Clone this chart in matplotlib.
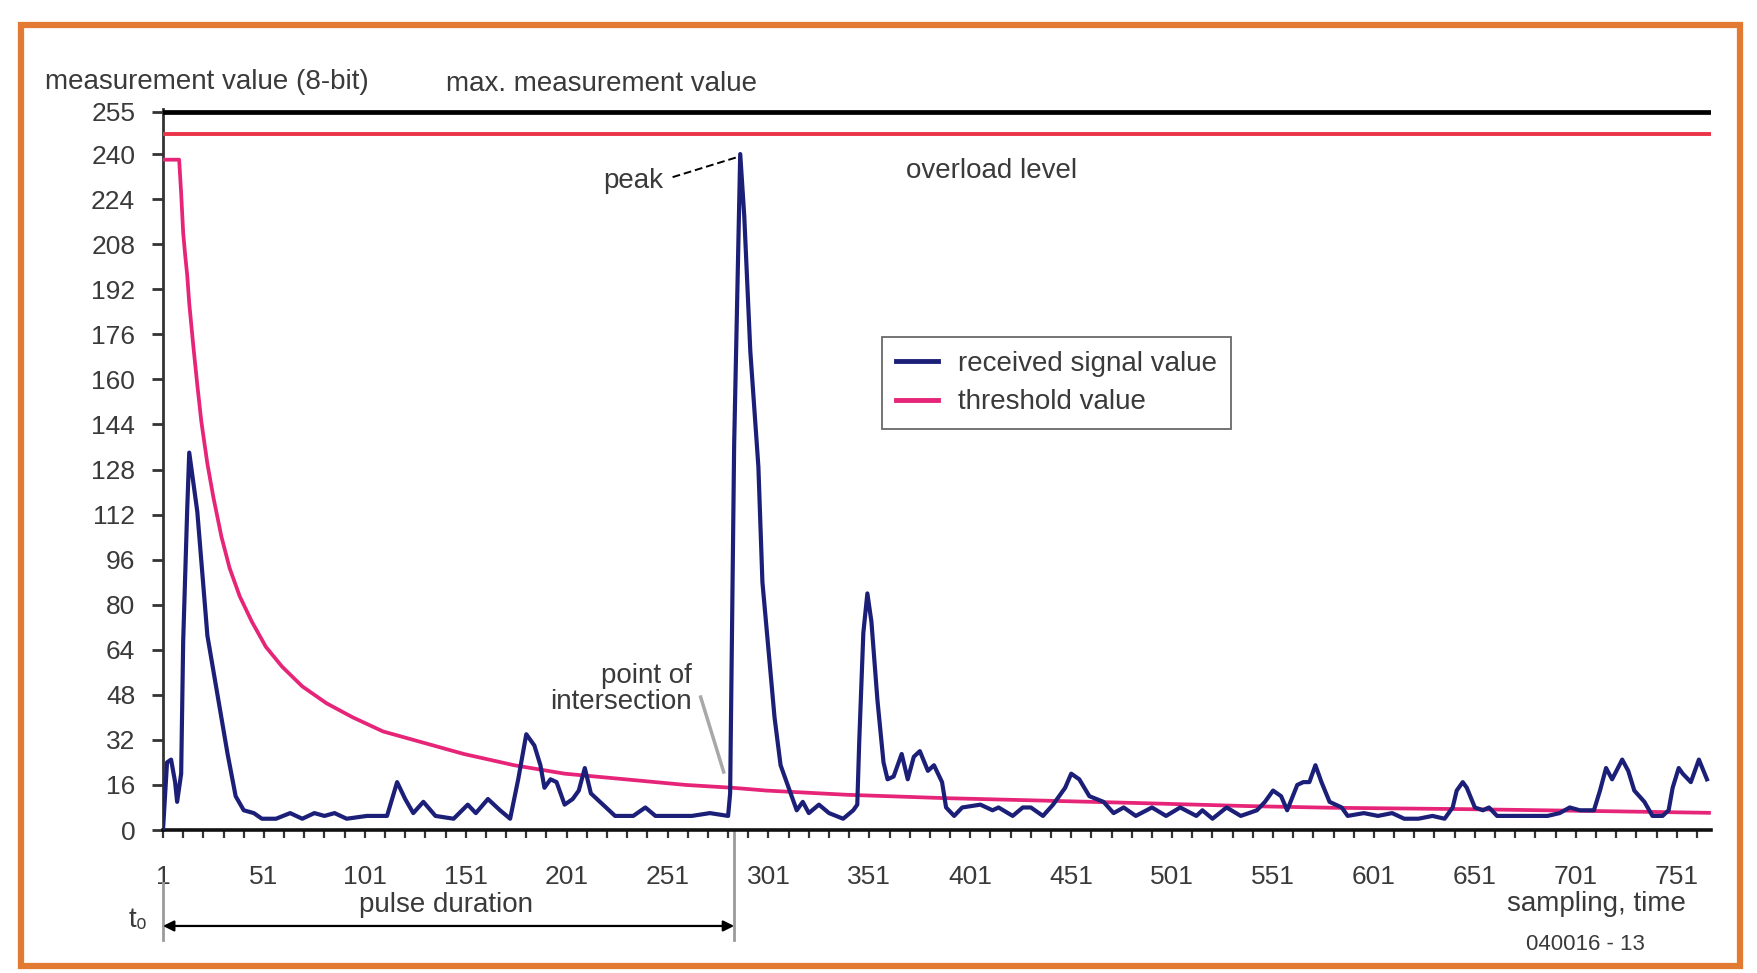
import matplotlib
matplotlib.use("Agg")
import matplotlib.pyplot as plt
from matplotlib.patches import Rectangle
import numpy as np

plt.rcParams['font.family'] = ['Liberation Sans', 'DejaVu Sans']

# ---------------- data ----------------
signal_x = [1, 3, 5, 7, 8, 10, 11, 13, 14, 18, 23, 28, 33, 37, 41, 46, 50, 57, 64, 70,
            76, 81, 86, 92, 102, 112, 117, 121, 125, 130, 136, 145, 152, 156, 162, 168,
            173, 177, 181, 185, 188, 190, 193, 196, 200, 204, 207, 210, 213, 219, 225,
            234, 240, 245, 255, 263, 272, 281, 282, 284, 287, 289, 292, 296, 298, 301,
            304, 307, 310, 315, 318, 321, 326, 331, 338, 343, 345, 346, 348, 350, 352,
            355, 358, 360, 363, 367, 370, 373, 376, 380, 383, 387, 389, 393, 397, 406,
            412, 415, 422, 427, 431, 437, 442, 448, 451, 455, 460, 467, 472, 477, 483,
            491, 498, 505, 513, 516, 521, 528, 535, 543, 547, 551, 555, 558, 563, 566,
            569, 572, 575, 579, 585, 588, 596, 603, 610, 616, 623, 630, 636, 640, 642,
            645, 647, 651, 655, 658, 662, 670, 678, 687, 693, 698, 703, 710, 713, 716,
            719, 724, 727, 730, 735, 739, 744, 747, 749, 752, 754, 758, 762, 766]
signal_y = [0, 24, 25, 17, 10, 20, 67, 114, 134, 113, 69, 48, 27, 12, 7, 6, 4, 4, 6, 4,
            6, 5, 6, 4, 5, 5, 17, 11, 6, 10, 5, 4, 9, 6, 11, 7,
            4, 18, 34, 30, 23, 15, 18, 17, 9, 11, 14, 22, 13, 9, 5,
            5, 8, 5, 5, 5, 6, 5, 13, 137, 240, 218, 170, 129, 88, 64,
            40, 23, 17, 7, 10, 6, 9, 6, 4, 7, 9, 32, 70, 84, 74,
            46, 24, 18, 19, 27, 18, 26, 28, 21, 23, 17, 8, 5, 8, 9,
            7, 8, 5, 8, 8, 5, 9, 15, 20, 18, 12, 10, 6, 8, 5,
            8, 5, 8, 5, 7, 4, 8, 5, 7, 10, 14, 12, 7, 16, 17,
            17, 23, 17, 10, 8, 5, 6, 5, 6, 4, 4, 5, 4, 8, 14,
            17, 15, 8, 7, 8, 5, 5, 5, 5, 6, 8, 7, 7, 14, 22,
            18, 25, 21, 14, 10, 5, 5, 7, 15, 22, 20, 17, 25, 18]

threshold_x = [1, 9, 10, 11, 12, 13, 14, 16, 18, 20, 23, 26, 30, 34, 39, 45, 52, 60, 70,
               82, 95, 110, 130, 150, 175, 200, 230, 260, 283, 300, 340, 389, 439, 488,
               538, 580, 647, 714, 767]
threshold_y = [238, 238, 226, 212, 204, 197, 187, 172, 158, 145, 130, 118, 104, 93, 83,
               74, 65, 58, 51, 45, 40, 35, 31, 27, 23, 20, 18, 16, 15, 14, 12.5, 11.3,
               10.4, 9.5, 8.5, 7.9, 7.4, 6.7, 6.1]

max_value = 255
overload_level = 247
x_range = (1, 768)
x_tick_labels = [1, 51, 101, 151, 201, 251, 301, 351, 401, 451, 501, 551, 601, 651, 701, 751]
y_tick_labels = [0, 16, 32, 48, 64, 80, 96, 112, 128, 144, 160, 176, 192, 208, 224, 240, 255]
pulse_start, pulse_end = 1, 284

# ---------------- figure ----------------
W, H = 1757, 973
fig = plt.figure(figsize=(W / 100, H / 100), dpi=100)
fig.patch.set_facecolor('white')

L, R, T, B = 163, 1711, 109, 830
ax = fig.add_axes([L / W, 1 - B / H, (R - L) / W, (B - T) / H])
ax.set_xlim(*x_range)
ax.set_ylim(0, 256)

txt_color = '#3a3a3a'
fs = 19
fs_t = 20

sig_color = '#1c1f78'
thr_color = '#e62478'
ovl_color = '#ea3448'

ax.axhline(max_value, color='black', lw=3.4, zorder=3)
ax.axhline(overload_level, color=ovl_color, lw=2.8, zorder=3)
ax.plot(threshold_x, threshold_y, color=thr_color, lw=2.7, zorder=4, label='threshold value')
ax.plot(signal_x, signal_y, color=sig_color, lw=3.0, zorder=5, label='received signal value')

for s in ['top', 'right']:
    ax.spines[s].set_visible(False)
ax.spines['left'].set_linewidth(2)
ax.spines['left'].set_color('#333333')
ax.spines['bottom'].set_linewidth(2.6)
ax.spines['bottom'].set_color('#111111')

ax.set_yticks(y_tick_labels)
ax.set_yticklabels([str(v) for v in y_tick_labels])
ax.set_xticks(x_tick_labels)
ax.set_xticklabels([str(v) for v in x_tick_labels])
ax.set_xticks(np.arange(1, 768, 10), minor=True)
ax.tick_params(axis='y', direction='out', length=8, width=2, pad=12,
               labelsize=fs, labelcolor=txt_color, color='#333333')
ax.tick_params(axis='x', which='both', direction='out', length=6, width=1.6,
               color='#333333')
ax.tick_params(axis='x', which='major', pad=19, labelsize=fs, labelcolor=txt_color)

# legend
handles, labels = ax.get_legend_handles_labels()
leg = ax.legend(handles[::-1], labels[::-1], loc='upper left',
                bbox_to_anchor=((882 - L) / (R - L), (B - 337) / (B - T)),
                borderaxespad=0, fontsize=fs_t, frameon=True, fancybox=False,
                handlelength=1.5, handletextpad=0.75, labelspacing=0.45,
                borderpad=0.5)
leg.get_frame().set_edgecolor('#444444')
leg.get_frame().set_linewidth(1.3)
for t in leg.get_texts():
    t.set_color(txt_color)
for lh in leg.get_lines():
    lh.set_linewidth(3.5)

# annotations in data coords
ax.text(369, 234, 'overload level', fontsize=fs_t, color=txt_color, ha='left', va='center')
ax.text(249, 230.5, 'peak', fontsize=fs_t, color=txt_color, ha='right', va='center')
ax.plot([253.5, 285.5], [231.8, 238.9], color='black', lw=1.4, ls=(0, (4, 2)), zorder=6)

ax.text(263, 50, 'point of\nintersection', fontsize=fs_t, color=txt_color,
        ha='right', va='center', multialignment='right', linespacing=1.0)
ax.plot([267.4, 278.8], [47.2, 20.6], color='#a8a8a8', lw=2.5, zorder=6)

# pulse duration below axis
xt = ax.get_xaxis_transform()
ax.annotate('', xy=(pulse_end, -0.1331), xytext=(pulse_start, -0.1331),
            xycoords=xt, textcoords=xt,
            arrowprops=dict(arrowstyle='<|-|>', color='black', lw=1.6,
                            mutation_scale=16, shrinkA=0, shrinkB=0),
            annotation_clip=False)
ax.plot([pulse_start, pulse_start], [-0.0735, -0.1526], transform=xt, color='#9a9a9a',
        lw=2, clip_on=False)
ax.plot([pulse_end, pulse_end], [0, -0.1526], transform=xt, color='#9a9a9a',
        lw=2, clip_on=False)
ax.text(141, -0.104, 'pulse duration', transform=xt, fontsize=fs_t, color=txt_color,
        ha='center', va='center')

# figure-level texts
def fx(x):
    return x / W

def fy(y):
    return 1 - y / H

fig.text(fx(45), fy(82), 'measurement value (8-bit)', fontsize=fs_t, color=txt_color,
         ha='left', va='center')
fig.text(fx(446), fy(84), 'max. measurement value', fontsize=fs_t, color=txt_color,
         ha='left', va='center')
fig.text(fx(1686), fy(904), 'sampling, time', fontsize=fs_t, color=txt_color,
         ha='right', va='center')
fig.text(fx(1526), fy(945), '040016 - 13', fontsize=16, color=txt_color,
         ha='left', va='center')
fig.text(fx(138), fy(920), 't\u2080', fontsize=fs_t, color=txt_color,
         ha='center', va='center')

# orange frame
fig.patches.append(Rectangle((fx(21), fy(966)), fx(1740) - fx(21), fy(25) - fy(966),
                             transform=fig.transFigure, fill=False,
                             edgecolor='#e27a33', linewidth=4.5, zorder=0))

fig.savefig('out.png', dpi=100, facecolor='white')
